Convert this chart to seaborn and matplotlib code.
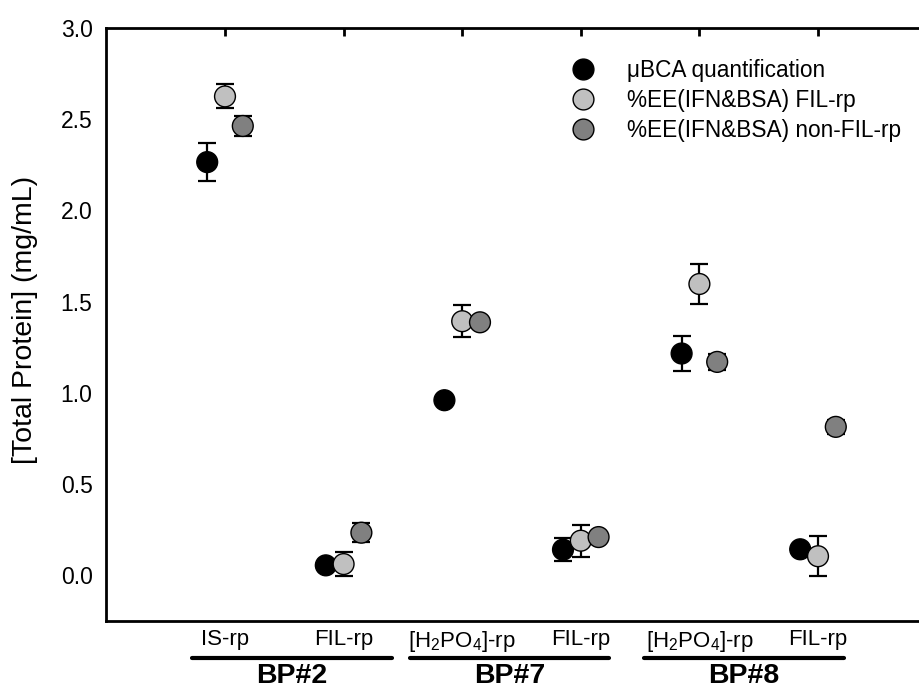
import matplotlib
matplotlib.use("Agg")
import matplotlib.pyplot as plt
from matplotlib.lines import Line2D
import seaborn as sns
import pandas as pd
import numpy as np

# ---- data ----
categories = ["IS-rp", "FIL-rp", r"[H$\mathregular{_2}$PO$\mathregular{_4}$]-rp", "FIL-rp",
              r"[H$\mathregular{_2}$PO$\mathregular{_4}$]-rp", "FIL-rp"]
groups = ["BP#2", "BP#7", "BP#8"]
series = ["\u03bcBCA quantification", "%EE(IFN&BSA) FIL-rp", "%EE(IFN&BSA) non-FIL-rp"]
bca = [2.265, 0.055, 0.96, 0.141, 1.216, 0.143]
bca_err = [0.105, 0.02, 0.02, 0.062, 0.098, 0.02]
fil = [2.625, 0.062, 1.393, 0.19, 1.597, 0.105]
fil_err = [0.066, 0.068, 0.089, 0.087, 0.11, 0.11]
nonfil = [2.463, 0.234, 1.387, 0.21, 1.17, 0.814]
nonfil_err = [0.055, 0.052, 0.02, 0.02, 0.045, 0.04]
colors = ["#000000", "#c0c0c0", "#808080"]

# ---- style ----
sns.set_style("white")
plt.rcParams["font.family"] = ["Liberation Sans", "DejaVu Sans"]
plt.rcParams["mathtext.fontset"] = "custom"
plt.rcParams["mathtext.rm"] = "Liberation Sans"
plt.rcParams["mathtext.it"] = "Liberation Sans:italic"
plt.rcParams["mathtext.bf"] = "Liberation Sans:bold"
for k in ["text.color", "axes.labelcolor", "xtick.color", "ytick.color", "axes.edgecolor"]:
    plt.rcParams[k] = "black"

W, H = 920, 689
fig = plt.figure(figsize=(W / 100, H / 100), dpi=100)
x0, unit = 106.4, 118.6
ax = fig.add_axes([x0 / W, 1 - 621 / H, 7 * unit / W, (621 - 28) / H])

offsets = [-0.15, 0.0, 0.15]
vals = [bca, fil, nonfil]
errs = [bca_err, fil_err, nonfil_err]
rows = []
for si, (name, v, e) in enumerate(zip(series, vals, errs)):
    for ci in range(len(categories)):
        rows.append({"series": name, "pos": ci + 1 + offsets[si], "val": v[ci], "err": e[ci]})
df = pd.DataFrame(rows)

for si, name in enumerate(series):
    d = df[df["series"] == name]
    ax.errorbar(d["pos"], d["val"], yerr=d["err"], fmt="none", ecolor="black",
                elinewidth=1.6, capsize=6.5, capthick=1.6, zorder=1)

sns.scatterplot(data=df, x="pos", y="val", hue="series", palette=colors, s=225,
                edgecolor="black", linewidth=1.0, legend=False, zorder=3, ax=ax)

ax.set_xlim(0, 7)
ax.set_ylim(-0.25, 3.0)
ax.set_xticks(range(1, len(categories) + 1))
ax.set_xticklabels(categories, fontsize=16)
ax.set_yticks(np.arange(0, 3.01, 0.5))
ax.set_yticklabels([f"{t:.1f}" for t in np.arange(0, 3.01, 0.5)], fontsize=16.5)
ax.set_xlabel("")
ax.set_ylabel("")
ax.tick_params(axis="both", direction="in", length=6, width=2, pad=6, colors="black")
ax.tick_params(axis="y", pad=10)
ax.tick_params(axis="x", top=True)
for sp in ["left", "bottom", "top"]:
    ax.spines[sp].set_linewidth(2)
    ax.spines[sp].set_color("black")
ax.spines["right"].set_visible(False)

fig.text(25 / W, 1 - 320 / H, "[Total Protein] (mg/mL)", rotation=90,
         ha="center", va="center", fontsize=20.5)

# group brackets
spans = [(0.72, 2.41), (2.56, 4.24), (4.53, 6.22)]
trans = ax.get_xaxis_transform()
for (a, b), g in zip(spans, groups):
    ax.plot([a, b], [-0.0624, -0.0624], color="black", lw=3, transform=trans, clip_on=False)
    ax.text((a + b) / 2, -0.093, g, transform=trans, ha="center", va="center",
            fontsize=20.5, fontweight="bold")

handles = [Line2D([], [], ls="none", marker="o", markersize=15, markerfacecolor=c,
                  markeredgecolor="black", markeredgewidth=1.0) for c in colors]
ax.legend(handles, series, frameon=False, loc="upper left",
          bbox_to_anchor=(572 / W, 1 - 59 / H), bbox_transform=fig.transFigure,
          fontsize=16.3, borderpad=0, handlelength=1.0, handletextpad=1.45,
          labelspacing=0.3, borderaxespad=0)

fig.savefig("out.png", dpi=100)
